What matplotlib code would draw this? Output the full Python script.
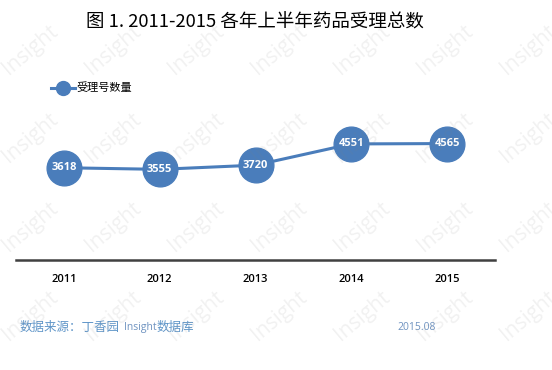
import matplotlib
matplotlib.use("Agg")
import matplotlib.pyplot as plt

plt.rcParams["font.family"] = ["Noto Sans CJK SC", "DejaVu Sans"]

years = ["2011", "2012", "2013", "2014", "2015"]
counts = [3618, 3555, 3720, 4551, 4565]
series_name = "受理号数量"
title = "图 1. 2011-2015 各年上半年药品受理总数"

blue = "#4a7dbb"
latin = ["Open Sans", "DejaVu Sans"]

fig = plt.figure(figsize=(5.52, 3.70), dpi=100)
fig.patch.set_facecolor("white")
ax = fig.add_axes([0.029, 0.297, 0.868, 0.414])

x = list(range(len(years)))
ax.plot(x, counts, color=blue, linewidth=2.2, marker="o", markersize=25,
        markerfacecolor=blue, markeredgecolor=blue, label=series_name, zorder=3)
for xi, v in zip(x, counts):
    ax.text(xi, v, str(v), color="white", fontsize=8, fontweight="bold",
            ha="center", va="center", zorder=4, family=latin)

ax.set_xlim(-0.5, len(years) - 0.5)
ax.set_ylim(0, 6000)
ax.set_xticks(x)
ax.set_xticklabels(years, fontsize=8, fontweight="semibold", family=latin)
ax.tick_params(axis="x", length=0, pad=10)
ax.set_yticks([])
for side in ["left", "right", "top"]:
    ax.spines[side].set_visible(False)
ax.spines["bottom"].set_color("#404040")
ax.spines["bottom"].set_linewidth(1.8)
ax.set_facecolor("none")

fig.legend(loc="center left", bbox_to_anchor=(0.074, 0.762), frameon=False,
           fontsize=8, handlelength=2.2, handletextpad=0.1, markerscale=0.4)

fig.text(0.462, 0.94, title, fontsize=13.3, ha="center", va="center")

fig.text(0.036, 0.116, "数据来源：丁香园", fontsize=9, color="#5f95c8", ha="left", va="center")
fig.text(0.225, 0.116, "Insight", fontsize=7.5, color="#6f93c0", ha="left", va="center",
         family=latin)
fig.text(0.284, 0.116, "数据库", fontsize=9, color="#5f95c8", ha="left", va="center")
fig.text(0.754, 0.116, "2015.08", fontsize=7.5, color="#6f93c0", ha="center", va="center",
         family=latin)

# watermark
for wy in [50, 138, 227, 316]:
    for wx in [30, 113, 196, 279, 362, 445, 528]:
        fig.text(wx / 552, 1 - wy / 370, "Insight", fontsize=15, color="#808080",
                 alpha=0.11, rotation=40, ha="center", va="center",
                 family=latin, zorder=10)

fig.savefig("out.png", dpi=100)
